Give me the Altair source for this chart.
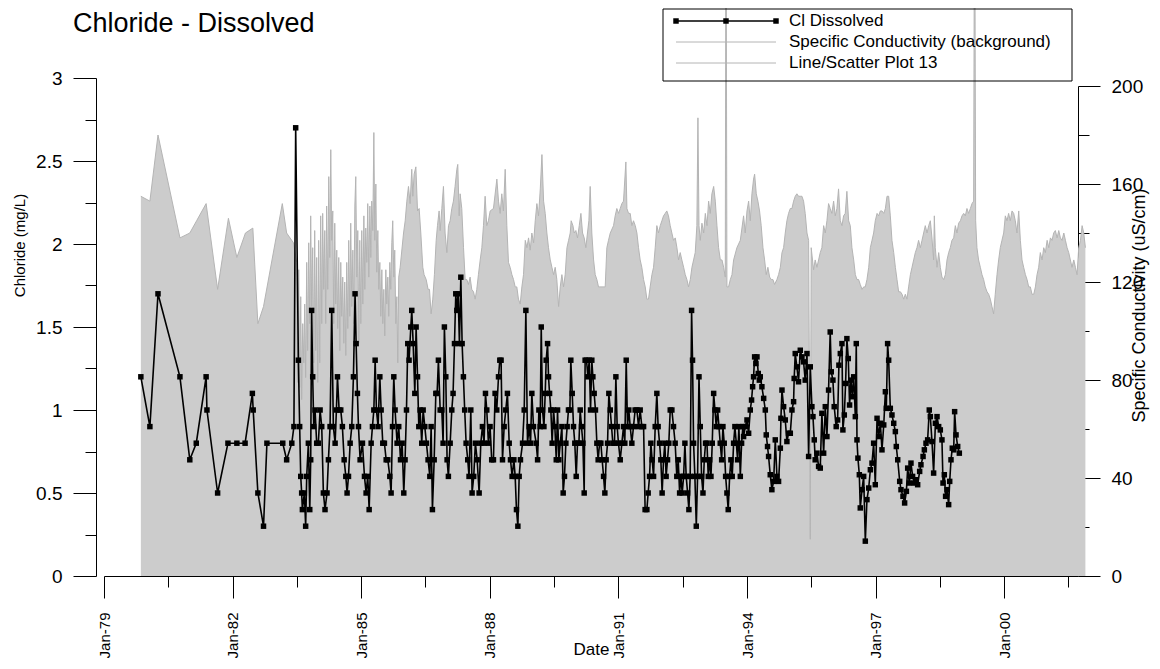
import altair as alt
import pandas as pd

FONT = "Liberation Sans, Arial, sans-serif"

TITLE = "Chloride - Dissolved"
LEGEND_LABELS = ["Cl Dissolved", "Specific Conductivity (background)", "Line/Scatter Plot 13"]

X_MAJOR_YEARS = [1979, 1982, 1985, 1988, 1991, 1994, 1997, 2000]
X_MINOR_YEARS = [1980, 1983, 1986, 1989, 1992, 1995, 1998, 2001]
CL_TICKS = [0, 0.25, 0.5, 0.75, 1, 1.25, 1.5, 1.75, 2, 2.25, 2.5, 2.75, 3]
SC_TICKS = [0, 20, 40, 60, 80, 100, 120, 140, 160, 180, 200]

# chloride, mg/L (decimal year, value)
CL_YEAR_A = [1979.86, 1980.07, 1980.26, 1980.77, 1981.00, 1981.15, 1981.38, 1981.40, 1981.65, 1981.89,
             1982.10, 1982.29, 1982.46, 1982.48, 1982.59, 1982.72, 1982.80, 1983.17, 1983.26, 1983.38,
             1983.43, 1983.47]
CL_VALUE_A = [1.2, 0.9, 1.7, 1.2, 0.7, 0.8, 1.2, 1.0, 0.5, 0.8,
              0.8, 0.8, 1.1, 1.0, 0.5, 0.3, 0.8, 0.8, 0.7, 0.8,
              0.9, 2.7]

CL_YEAR_B = [1983.534, 1983.565, 1983.589, 1983.612, 1983.627, 1983.674, 1983.705, 1983.729, 1983.767, 1983.799,
             1983.822, 1983.845, 1983.869, 1983.892, 1983.923, 1983.962, 1984.001, 1984.040, 1984.079, 1984.117,
             1984.156, 1984.203, 1984.234, 1984.273, 1984.312, 1984.351, 1984.390, 1984.421, 1984.444, 1984.483,
             1984.522, 1984.561, 1984.600, 1984.639, 1984.670, 1984.701, 1984.740, 1984.779, 1984.817, 1984.856,
             1984.880, 1984.911, 1984.934, 1984.973, 1985.027, 1985.074, 1985.113, 1985.152, 1985.183, 1985.230,
             1985.261, 1985.292, 1985.323, 1985.354, 1985.393, 1985.432, 1985.463, 1985.502, 1985.541, 1985.580,
             1985.619, 1985.665, 1985.696, 1985.728, 1985.759, 1985.790, 1985.836, 1985.875, 1985.914, 1985.953,
             1985.992, 1986.023, 1986.054, 1986.085, 1986.116, 1986.155, 1986.179, 1986.210, 1986.249, 1986.280,
             1986.311, 1986.342, 1986.373, 1986.412, 1986.443, 1986.482, 1986.521, 1986.560, 1986.599, 1986.630,
             1986.661, 1986.700, 1986.739, 1986.770, 1986.801, 1986.840, 1986.879, 1986.910, 1986.941, 1986.972,
             1987.003, 1987.034, 1987.073, 1987.112, 1987.143, 1987.174, 1987.205, 1987.229, 1987.260, 1987.291,
             1987.322, 1987.353, 1987.384, 1987.415, 1987.446, 1987.485, 1987.516, 1987.555, 1987.586, 1987.625,
             1987.664, 1987.703, 1987.750, 1987.789, 1987.828, 1987.866, 1987.898, 1987.929, 1987.968, 1988.006,
             1988.045, 1988.084, 1988.123, 1988.162, 1988.201, 1988.232, 1988.263, 1988.294, 1988.333, 1988.372,
             1988.411, 1988.450, 1988.481, 1988.520, 1988.559, 1988.590, 1988.621, 1988.652, 1988.683, 1988.714,
             1988.761, 1988.800, 1988.839, 1988.878, 1988.916, 1988.948, 1988.979, 1989.017]
CL_VALUE_B = [1.3, 0.9, 0.6, 0.5, 0.4, 0.5, 0.3, 0.6, 0.8, 0.4,
              0.7, 1.6, 1.2, 0.9, 1.0, 0.8, 0.8, 1.0, 0.9, 0.5,
              0.4, 0.5, 0.7, 0.9, 1.6, 0.9, 0.8, 1.0, 1.2, 1.0,
              1.0, 0.9, 0.7, 0.6, 0.5, 0.6, 0.8, 0.9, 1.2, 1.7,
              1.4, 1.1, 0.9, 0.7, 0.8, 0.6, 0.5, 0.6, 0.4, 0.8,
              0.9, 1.0, 1.3, 1.0, 0.9, 1.2, 1.0, 0.8, 0.8, 0.7,
              0.7, 0.6, 0.5, 0.9, 1.2, 1.0, 0.8, 0.9, 0.7, 0.8,
              0.5, 0.7, 1.0, 1.4, 1.3, 1.5, 1.6, 1.4, 1.1, 1.5,
              1.2, 0.9, 1.0, 0.8, 1.0, 0.9, 0.8, 0.7, 0.6, 0.9,
              0.4, 0.7, 1.1, 1.1, 1.3, 1.0, 1.0, 0.8, 1.5, 1.2,
              0.7, 0.6, 0.8, 1.0, 1.1, 1.4, 1.7, 1.6, 1.7, 1.4,
              1.8, 1.4, 1.2, 1.0, 0.8, 0.7, 0.6, 1.0, 0.5, 0.6,
              0.8, 0.7, 0.5, 0.8, 0.9, 0.8, 1.1, 1.0, 0.8, 0.9,
              0.7, 0.7, 1.1, 1.0, 1.2, 1.3, 1.3, 0.7, 0.9, 1.0,
              1.1, 0.8, 0.7, 0.6, 0.7, 0.6, 0.4, 0.3, 0.6, 0.7,
              0.8, 1.0, 1.6, 0.8, 0.9, 0.8, 1.1, 0.9]

CL_YEAR_C = [1989.080, 1989.111, 1989.142, 1989.173, 1989.197, 1989.228, 1989.259, 1989.290, 1989.313, 1989.344,
             1989.368, 1989.391, 1989.422, 1989.453, 1989.484, 1989.516, 1989.547, 1989.578, 1989.609, 1989.640,
             1989.679, 1989.710, 1989.741, 1989.772, 1989.803, 1989.834, 1989.866, 1989.889, 1989.920, 1989.951,
             1989.982, 1990.013, 1990.044, 1990.076, 1990.107, 1990.138, 1990.169, 1990.200, 1990.223, 1990.254,
             1990.286, 1990.317, 1990.348, 1990.379, 1990.402, 1990.433, 1990.464, 1990.496, 1990.527, 1990.558,
             1990.589, 1990.620, 1990.651, 1990.682, 1990.713, 1990.744, 1990.776, 1990.807, 1990.838, 1990.869,
             1990.908, 1990.939, 1990.970, 1991.001, 1991.040, 1991.079, 1991.118, 1991.149, 1991.180, 1991.211,
             1991.242, 1991.273, 1991.312, 1991.351, 1991.390, 1991.429, 1991.468, 1991.507, 1991.546, 1991.585,
             1991.623, 1991.662, 1991.693, 1991.725, 1991.756, 1991.787, 1991.818, 1991.857, 1991.896, 1991.927,
             1991.958, 1991.989, 1992.020, 1992.051, 1992.082, 1992.113, 1992.145, 1992.176, 1992.207, 1992.246,
             1992.285, 1992.323, 1992.362, 1992.393, 1992.425, 1992.456, 1992.487, 1992.518, 1992.549, 1992.580,
             1992.611, 1992.642, 1992.673, 1992.705, 1992.728, 1992.751, 1992.782, 1992.813, 1992.845, 1992.876,
             1992.907, 1992.938, 1992.969, 1993.000, 1993.031, 1993.062, 1993.093, 1993.125, 1993.156, 1993.187,
             1993.218, 1993.249, 1993.280, 1993.311, 1993.342, 1993.373, 1993.405, 1993.436, 1993.467, 1993.498,
             1993.529, 1993.560, 1993.591, 1993.622, 1993.653, 1993.685, 1993.716, 1993.747, 1993.778, 1993.809,
             1993.840, 1993.871, 1993.902]
CL_VALUE_C = [0.8, 0.7, 1.0, 0.9, 1.5, 1.0, 0.9, 1.1, 1.3, 1.4,
              1.2, 1.1, 1.0, 0.8, 1.0, 0.9, 0.7, 1.0, 0.7, 0.8,
              0.9, 0.5, 0.6, 0.8, 0.9, 1.0, 1.0, 1.3, 1.1, 0.9,
              0.8, 0.6, 0.8, 0.8, 1.0, 0.9, 0.8, 0.5, 1.3, 1.3,
              1.2, 1.3, 1.0, 1.3, 1.2, 1.1, 1.0, 0.8, 0.7, 0.8,
              0.8, 0.7, 0.6, 0.5, 0.7, 0.8, 1.1, 1.0, 0.9, 0.8,
              0.8, 1.2, 0.9, 0.8, 0.7, 0.8, 0.9, 0.8, 1.3, 0.9,
              1.0, 0.9, 0.8, 0.9, 1.0, 1.0, 0.9, 1.0, 0.9, 0.9,
              0.4, 0.4, 0.5, 0.6, 0.8, 0.7, 0.6, 0.9, 1.1, 0.9,
              0.8, 0.7, 0.5, 0.7, 0.8, 0.6, 0.7, 0.8, 1.0, 1.0,
              0.9, 0.8, 0.6, 0.7, 0.5, 0.6, 0.5, 0.6, 0.8, 0.6,
              0.5, 0.4, 0.6, 1.6, 1.3, 0.8, 0.6, 0.3, 0.6, 1.2,
              0.9, 0.6, 0.5, 0.7, 0.8, 0.8, 0.6, 0.7, 0.6, 0.8,
              1.1, 1.0, 0.9, 1.0, 0.9, 0.8, 0.7, 0.9, 0.8, 0.6,
              0.5, 0.4, 0.6, 0.7, 0.6, 0.8, 0.9, 0.8, 0.7, 0.9,
              0.6, 0.8, 0.9]

CL_YEAR_D = [1993.918, 1993.957, 1993.996, 1994.035, 1994.074, 1994.105, 1994.128, 1994.151, 1994.175, 1994.206,
             1994.229, 1994.260, 1994.284,
             1994.307, 1994.346, 1994.385, 1994.424, 1994.447, 1994.478, 1994.501, 1994.540, 1994.579, 1994.618,
             1994.657, 1994.696, 1994.735, 1994.774, 1994.789, 1994.813, 1994.851, 1994.890, 1994.929, 1994.968,
             1995.007, 1995.046, 1995.085, 1995.100, 1995.124, 1995.163, 1995.201, 1995.240, 1995.279, 1995.318,
             1995.357, 1995.396, 1995.435, 1995.474, 1995.513, 1995.536, 1995.567, 1995.590, 1995.629, 1995.668,
             1995.707, 1995.746, 1995.785, 1995.824, 1995.863, 1995.901, 1995.940, 1995.964, 1996.003, 1996.034,
             1996.080, 1996.111, 1996.143, 1996.174, 1996.213, 1996.236, 1996.267, 1996.298, 1996.329, 1996.360,
             1996.391, 1996.423, 1996.454, 1996.485, 1996.524, 1996.547, 1996.563, 1996.586, 1996.617, 1996.640,
             1996.679, 1996.718, 1996.757, 1996.796, 1996.835, 1996.874, 1996.913, 1996.952, 1996.990, 1997.029,
             1997.068, 1997.107, 1997.146, 1997.185, 1997.224, 1997.247, 1997.278, 1997.301, 1997.340, 1997.379,
             1997.418, 1997.457, 1997.480, 1997.511, 1997.558, 1997.589, 1997.636, 1997.675, 1997.714, 1997.745,
             1997.784, 1997.823, 1997.861, 1997.900, 1997.939, 1997.978, 1998.025, 1998.056, 1998.103, 1998.134,
             1998.173, 1998.211, 1998.250, 1998.274, 1998.313, 1998.352, 1998.391, 1998.429, 1998.468, 1998.507,
             1998.546, 1998.569, 1998.600, 1998.631, 1998.663, 1998.702, 1998.725, 1998.756, 1998.787, 1998.818,
             1998.841, 1998.873, 1998.911, 1998.950]
CL_VALUE_D = [0.84, 0.9, 0.94, 0.86, 1.0, 1.06, 1.14, 1.2, 1.32, 1.28,
              1.32, 1.22, 1.18,
              1.2, 1.14, 1.07, 1.0, 0.85, 0.78, 0.72, 0.61, 0.52, 0.57,
              0.82, 0.6, 0.57, 0.77, 0.95, 1.12, 1.02, 0.94, 0.81, 0.86,
              0.86, 1.0, 1.05, 1.19, 1.34, 1.26, 1.17, 1.36, 1.32, 1.29,
              1.18, 1.34, 0.72, 1.26, 1.02, 0.96, 0.82, 0.7, 0.74, 0.66,
              0.65, 0.98, 0.74, 1.02, 0.84, 1.12, 1.47, 1.23, 1.18, 1.02,
              0.9, 0.94, 1.27, 1.34, 1.4, 0.88, 0.97, 1.16, 1.43, 1.31,
              1.03, 1.18, 1.08, 1.2, 0.96, 1.4, 0.82, 0.71, 0.61, 0.41,
              0.52, 0.6, 0.21, 0.46, 0.53, 0.64, 0.68, 0.8, 0.55, 0.95,
              0.84, 0.92, 0.76, 0.91, 1.11, 1.01, 1.4, 1.3, 1.01, 0.97,
              0.92, 0.87, 0.78, 0.7, 0.57, 0.52, 0.48, 0.44, 0.51, 0.65,
              0.56, 0.68, 0.6, 0.56, 0.58, 0.55, 0.63, 0.67, 0.72, 0.76,
              0.8, 0.82, 1.0, 0.96, 0.81, 0.62, 0.92, 0.96, 0.9, 0.88,
              0.82, 0.56, 0.61, 0.48, 0.52, 0.43, 0.57, 0.7, 0.77, 0.76,
              0.99, 0.85, 0.78, 0.74]

# specific conductivity, uS/cm (decimal year, value)
SC_YEAR_A = [1979.86, 1980.07, 1980.26, 1980.77, 1981.00, 1981.16, 1981.38, 1981.65, 1981.90, 1982.10,
             1982.30, 1982.47, 1982.59, 1982.72, 1983.16, 1983.26, 1983.42]
SC_VALUE_A = [155, 153, 180, 138, 140, 145, 152, 117, 146, 130,
              140, 142, 103, 110, 152, 140, 136]

SC_YEAR_B = [1983.495, 1983.519, 1983.542, 1983.565, 1983.589, 1983.612, 1983.635, 1983.659, 1983.682, 1983.705,
             1983.729, 1983.752, 1983.775, 1983.799, 1983.822, 1983.845, 1983.869, 1983.892, 1983.915, 1983.939,
             1983.962, 1983.985, 1984.009, 1984.032, 1984.055, 1984.079, 1984.102, 1984.125, 1984.149, 1984.172,
             1984.195, 1984.219, 1984.242, 1984.265, 1984.289, 1984.312, 1984.335, 1984.359, 1984.382, 1984.405,
             1984.429, 1984.452, 1984.475, 1984.499, 1984.522, 1984.545, 1984.569, 1984.592, 1984.615, 1984.639,
             1984.662, 1984.685, 1984.709, 1984.732, 1984.755, 1984.779, 1984.802, 1984.825, 1984.849, 1984.872,
             1984.895, 1984.919, 1984.942, 1984.965, 1984.989, 1985.012, 1985.035, 1985.059, 1985.082, 1985.105,
             1985.129, 1985.152, 1985.175, 1985.199, 1985.222, 1985.245, 1985.269, 1985.292, 1985.315, 1985.339,
             1985.362, 1985.385, 1985.409, 1985.432, 1985.455, 1985.479, 1985.502, 1985.525, 1985.549, 1985.572,
             1985.595, 1985.619, 1985.642, 1985.665, 1985.689, 1985.712, 1985.735, 1985.759, 1985.782, 1985.805,
             1985.829, 1985.852, 1985.875]
SC_VALUE_B = [128, 79, 125, 77, 114, 72, 103, 87, 111, 81,
              128, 92, 136, 103, 147, 110, 134, 87, 141, 92,
              130, 79, 137, 87, 147, 103, 148, 117, 141, 103,
              151, 117, 163, 130, 174, 137, 149, 103, 144, 111,
              133, 101, 130, 92, 128, 106, 122, 95, 120, 90,
              128, 101, 137, 106, 144, 110, 133, 103, 151, 163,
              122, 141, 95, 137, 103, 141, 111, 147, 117, 142,
              128, 152, 122, 151, 130, 153, 141, 181, 137, 160,
              124, 141, 117, 128, 106, 125, 103, 117, 98, 125,
              111, 122, 106, 128, 117, 136, 145, 122, 133, 103,
              114, 87, 122]

SC_YEAR_C = [1985.907, 1985.985, 1986.024, 1986.063, 1986.101, 1986.140, 1986.179, 1986.203, 1986.234, 1986.273,
             1986.311, 1986.350, 1986.389, 1986.436, 1986.467, 1986.514, 1986.560, 1986.591, 1986.630, 1986.669,
             1986.708, 1986.747, 1986.778, 1986.817, 1986.840, 1986.879, 1986.918, 1986.957, 1986.996, 1987.035,
             1987.074, 1987.113, 1987.151, 1987.190, 1987.229, 1987.253, 1987.284, 1987.307, 1987.346, 1987.385,
             1987.424, 1987.463, 1987.501, 1987.540, 1987.579, 1987.618, 1987.657, 1987.696, 1987.735, 1987.774,
             1987.813, 1987.852, 1987.890, 1987.929, 1987.968, 1988.007, 1988.085, 1988.163, 1988.201, 1988.240,
             1988.279, 1988.318, 1988.357, 1988.396, 1988.435, 1988.474, 1988.513, 1988.552, 1988.591, 1988.629,
             1988.668, 1988.707, 1988.746, 1988.785, 1988.824, 1988.863, 1988.902, 1988.940, 1988.979, 1989.018,
             1989.057, 1989.096, 1989.135, 1989.174, 1989.213, 1989.251, 1989.290, 1989.329, 1989.368, 1989.407,
             1989.446, 1989.485, 1989.524, 1989.563, 1989.602, 1989.640, 1989.679, 1989.718, 1989.757, 1989.796,
             1989.835, 1989.874, 1989.897, 1989.936, 1989.967, 1990.006, 1990.045, 1990.084, 1990.123, 1990.162,
             1990.201, 1990.239, 1990.278, 1990.309, 1990.340, 1990.379, 1990.418, 1990.457, 1990.496, 1990.535,
             1990.690, 1990.729, 1990.768, 1990.807, 1990.885, 1990.924, 1990.963, 1991.002, 1991.041, 1991.079,
             1991.118, 1991.173, 1991.196, 1991.235, 1991.274, 1991.313, 1991.352, 1991.391, 1991.429, 1991.468,
             1991.507, 1991.546, 1991.585, 1991.624, 1991.663, 1991.702, 1991.741, 1991.780, 1991.818, 1991.857,
             1991.896, 1991.935, 1991.974, 1992.013, 1992.052, 1992.091, 1992.129, 1992.168, 1992.207, 1992.246,
             1992.285, 1992.324, 1992.363, 1992.402, 1992.441, 1992.479, 1992.518, 1992.557, 1992.596, 1992.635,
             1992.674, 1992.713, 1992.751, 1992.790, 1992.829, 1992.853, 1992.876, 1992.907, 1992.946, 1992.985,
             1993.024, 1993.063, 1993.101, 1993.140, 1993.179, 1993.218, 1993.257, 1993.296, 1993.335, 1993.374,
             1993.413, 1993.452, 1993.490, 1993.506, 1993.529, 1993.568, 1993.607, 1993.646, 1993.685, 1993.763,
             1993.840]
SC_VALUE_C = [126, 140, 145, 153, 159, 152, 166, 155, 164, 167,
              149, 150, 140, 126, 123, 121, 117, 117, 107, 113,
              123, 137, 143, 149, 141, 150, 159, 140, 132, 143,
              145, 150, 153, 159, 166, 168, 147, 156, 150, 134,
              121, 121, 119, 122, 117, 116, 113, 117, 123, 129,
              134, 143, 155, 143, 145, 149, 150, 162, 153, 148,
              156, 149, 166, 143, 128, 126, 123, 121, 118, 118,
              113, 111, 118, 123, 137, 134, 138, 133, 140, 136,
              145, 152, 147, 158, 172, 153, 148, 140, 134, 129,
              126, 123, 126, 121, 110, 118, 123, 118, 123, 134,
              137, 140, 145, 143, 140, 141, 138, 143, 148, 140,
              138, 134, 140, 145, 159, 140, 129, 123, 121, 118,
              118, 134, 137, 140, 143, 147, 150, 148, 150, 152,
              153, 169, 150, 148, 148, 143, 145, 143, 140, 134,
              129, 126, 121, 118, 113, 113, 118, 123, 126, 134,
              143, 140, 143, 145, 147, 148, 149, 147, 143, 140,
              137, 138, 134, 129, 132, 129, 126, 123, 121, 118,
              121, 126, 129, 132, 143, 187, 143, 137, 144, 140,
              148, 143, 153, 148, 156, 159, 153, 143, 134, 129,
              129, 126, 122, 300, 118, 118, 121, 123, 129, 134,
              137]

SC_YEAR_D = [1993.918, 1993.957, 1993.996, 1994.035, 1994.074, 1994.113, 1994.151, 1994.175, 1994.214, 1994.253,
             1994.291, 1994.330, 1994.369, 1994.408, 1994.447, 1994.486, 1994.525, 1994.564, 1994.603, 1994.641,
             1994.696, 1994.735, 1994.774, 1994.813, 1994.852, 1994.890, 1994.929, 1994.968, 1995.007, 1995.046,
             1995.085, 1995.124, 1995.163, 1995.201, 1995.240, 1995.279, 1995.318, 1995.357, 1995.396, 1995.435,
             1995.474, 1995.497, 1995.551, 1995.590, 1995.629, 1995.668, 1995.707, 1995.746, 1995.785, 1995.824,
             1995.863, 1995.901, 1995.940, 1995.979, 1996.018, 1996.057, 1996.096, 1996.135, 1996.174, 1996.213,
             1996.251, 1996.290, 1996.329, 1996.368, 1996.407, 1996.446, 1996.485, 1996.524, 1996.563, 1996.601,
             1996.640, 1996.679, 1996.718, 1996.757, 1996.796, 1996.835, 1996.874, 1996.913, 1996.952, 1996.990,
             1997.029, 1997.068, 1997.107, 1997.146, 1997.185, 1997.224, 1997.263, 1997.301, 1997.340, 1997.379,
             1997.418, 1997.457, 1997.496, 1997.535, 1997.574, 1997.613, 1997.651, 1997.690, 1997.729, 1997.768,
             1997.807, 1997.846, 1997.885, 1997.924, 1997.963, 1998.001, 1998.040, 1998.079, 1998.118, 1998.157,
             1998.196, 1998.235, 1998.274, 1998.313, 1998.351, 1998.367, 1998.390, 1998.429, 1998.468, 1998.507,
             1998.546, 1998.585, 1998.624, 1998.663, 1998.701, 1998.740, 1998.779, 1998.818, 1998.857, 1998.896,
             1998.935, 1998.974, 1999.013, 1999.052, 1999.091, 1999.129, 1999.168, 1999.207, 1999.246, 1999.285,
             1999.308, 1999.331, 1999.363, 1999.401, 1999.440, 1999.479, 1999.518, 1999.557, 1999.596, 1999.635,
             1999.674, 1999.713, 1999.751, 1999.790, 1999.829, 1999.868, 1999.907, 1999.946, 1999.985, 2000.024,
             2000.063, 2000.101, 2000.140, 2000.179, 2000.218, 2000.257, 2000.296, 2000.335, 2000.374, 2000.413,
             2000.452, 2000.491, 2000.529, 2000.568, 2000.607, 2000.646, 2000.685, 2000.724, 2000.763, 2000.801,
             2000.840, 2000.879, 2000.918, 2000.957, 2000.996, 2001.035, 2001.074, 2001.113, 2001.151, 2001.190,
             2001.229, 2001.268, 2001.307, 2001.346, 2001.385, 2001.424, 2001.463, 2001.502, 2001.540, 2001.579,
             2001.618, 2001.657, 2001.696, 2001.735, 2001.774, 2001.813, 2001.852, 2001.890]
SC_VALUE_D = [147, 140, 149, 153, 145, 156, 162, 164, 156, 153,
              149, 143, 134, 129, 123, 126, 122, 121, 121, 119,
              121, 123, 126, 132, 134, 140, 145, 148, 150, 150,
              153, 155, 156, 155, 155, 155, 153, 148, 140, 137,
              15, 134, 125, 129, 126, 129, 132, 134, 143, 140,
              145, 152, 150, 148, 153, 147, 150, 158, 145, 143,
              147, 148, 157, 145, 143, 134, 129, 123, 121, 121,
              119, 117, 118, 118, 121, 126, 134, 137, 140, 145,
              148, 147, 149, 149, 148, 150, 155, 155, 147, 137,
              132, 126, 121, 116, 116, 115, 113, 115, 113, 118,
              123, 126, 129, 132, 134, 137, 134, 137, 140, 143,
              140, 143, 145, 138, 129, 147, 134, 126, 132, 126,
              122, 121, 123, 129, 132, 134, 137, 138, 143, 140,
              144, 145, 147, 148, 147, 150, 148, 150, 152, 153,
              300, 145, 134, 129, 126, 123, 121, 118, 116, 115,
              113, 110, 107, 115, 123, 129, 134, 137, 140, 147,
              145, 148, 145, 149, 148, 145, 140, 149, 137, 129,
              126, 123, 121, 118, 118, 115, 115, 118, 123, 126,
              132, 129, 134, 132, 137, 134, 138, 137, 140, 141,
              138, 141, 138, 137, 140, 137, 134, 132, 129, 126,
              129, 126, 123, 134, 137, 143, 140, 134]


def to_date(y):
    yi = int(y)
    start = pd.Timestamp(year=yi, month=1, day=1)
    end = pd.Timestamp(year=yi + 1, month=1, day=1)
    return (start + (end - start) * (y - yi)).round("D")


cl_df = pd.DataFrame({
    "year": CL_YEAR_A + CL_YEAR_B + CL_YEAR_C + CL_YEAR_D,
    "cl": CL_VALUE_A + CL_VALUE_B + CL_VALUE_C + CL_VALUE_D,
})
cl_df["date"] = [to_date(y) for y in cl_df["year"]]

sc_df = pd.DataFrame({
    "year": SC_YEAR_A + SC_YEAR_B + SC_YEAR_C + SC_YEAR_D,
    "sc": SC_VALUE_A + SC_VALUE_B + SC_VALUE_C + SC_VALUE_D,
})
sc_df["date"] = [to_date(y) for y in sc_df["year"]]

x_values = ([alt.DateTime(year=y, month=1, date=1) for y in X_MAJOR_YEARS]
            + [alt.DateTime(year=y, month=7, date=1) for y in X_MINOR_YEARS])
x_scale = alt.Scale(domain=[alt.DateTime(year=1979, month=1, date=1),
                            alt.DateTime(year=2001, month=9, date=20)])
x_axis = alt.Axis(
    values=x_values,
    labelExpr="month(datum.value) === 0 ? timeFormat(datum.value, '%b-%y') : ''",
    labelAngle=270, labelFontSize=15, labelPadding=14,
    labelOverlap=False, labelFlush=False, labelBound=False,
    tickSize={"condition": {"test": "month(datum.value) === 0", "value": 22}, "value": 11},
    title="Date", titleFontSize=17, titleY=78, titleBaseline="alphabetic",
)

area = alt.Chart(sc_df).mark_area(
    color="#cccccc", opacity=1,
    line=alt.OverlayMarkDef(color="#b4b4b4", strokeWidth=1),
).encode(
    x=alt.X("date:T", scale=x_scale, axis=x_axis),
    y=alt.Y("sc:Q", scale=alt.Scale(domain=[0, 200], range=[498, 8]),
            axis=alt.Axis(
                orient="right", values=SC_TICKS, format="d",
                labelExpr="datum.value % 40 === 0 ? datum.label : ''",
                tickSize={"condition": {"test": "datum.value % 40 === 0", "value": 22}, "value": 11},
                labelPadding=11, labelFontSize=19,
                title="Specific Conductivity (uS/cm)", titleFontSize=18, titleAngle=270,
                titleX=66, titleY=227, titleBaseline="alphabetic", titleAlign="center",
            )),
)

chloride = alt.Chart(cl_df).mark_line(
    color="black", strokeWidth=1.6,
    point=alt.OverlayMarkDef(shape="square", filled=True, size=30, color="black", opacity=1),
).encode(
    x=alt.X("date:T", scale=x_scale, axis=x_axis),
    y=alt.Y("cl:Q", scale=alt.Scale(domain=[0, 3]),
            axis=alt.Axis(
                orient="left", values=CL_TICKS, format="~g", offset=8,
                labelExpr="datum.value % 0.5 === 0 ? datum.label : ''",
                tickSize={"condition": {"test": "datum.value % 0.5 === 0", "value": 23}, "value": 11},
                labelPadding=11, labelFontSize=19,
                title="Chloride (mg/L)", titleFontSize=15, titleAngle=270,
                titleX=-72, titleY=167, titleBaseline="alphabetic", titleAlign="center",
            )),
)

one = pd.DataFrame({"k": [0]})
layers = [area, chloride]

# legend drawn by hand, in the style of the original
layers.append(alt.Chart(one).mark_rect(fillOpacity=0, stroke="black", strokeWidth=1).encode(
    x=alt.value(559), x2=alt.value(968), y=alt.value(-69), y2=alt.value(3)))
layers.append(alt.Chart(one).mark_rule(color="black", strokeWidth=1.6).encode(
    x=alt.value(572), x2=alt.value(672), y=alt.value(-57)))
for px in (572, 622, 672):
    layers.append(alt.Chart(one).mark_square(size=30, color="black", opacity=1).encode(
        x=alt.value(px), y=alt.value(-57)))
for py in (-36, -15):
    layers.append(alt.Chart(one).mark_rule(color="#b4b4b4", strokeWidth=1).encode(
        x=alt.value(572), x2=alt.value(672), y=alt.value(py)))
for label, py in zip(LEGEND_LABELS, (-57, -36, -15)):
    layers.append(alt.Chart(pd.DataFrame({"label": [label]})).mark_text(
        align="left", baseline="middle", fontSize=17, font=FONT, color="black",
    ).encode(x=alt.value(685), y=alt.value(py), text="label:N"))

layers.append(alt.Chart(pd.DataFrame({"label": [TITLE]})).mark_text(
    align="left", baseline="alphabetic", fontSize=27, font=FONT, color="black",
).encode(x=alt.value(-31), y=alt.value(-46), text="label:N"))

chart = alt.layer(*layers).resolve_scale(
    y="independent"
).properties(
    width=974,
    height=498,
    autosize=alt.AutoSizeParams(type="none"),
    padding={"left": 96, "top": 70, "right": 74, "bottom": 82},
).configure_view(
    strokeWidth=0
).configure_axis(
    grid=False,
    domainColor="black",
    tickColor="black",
    labelColor="black",
    titleColor="black",
    labelFont=FONT,
    titleFont=FONT,
    titleFontWeight="normal",
)

chart.save("out.html", embed_options={"renderer": "svg", "actions": False})
